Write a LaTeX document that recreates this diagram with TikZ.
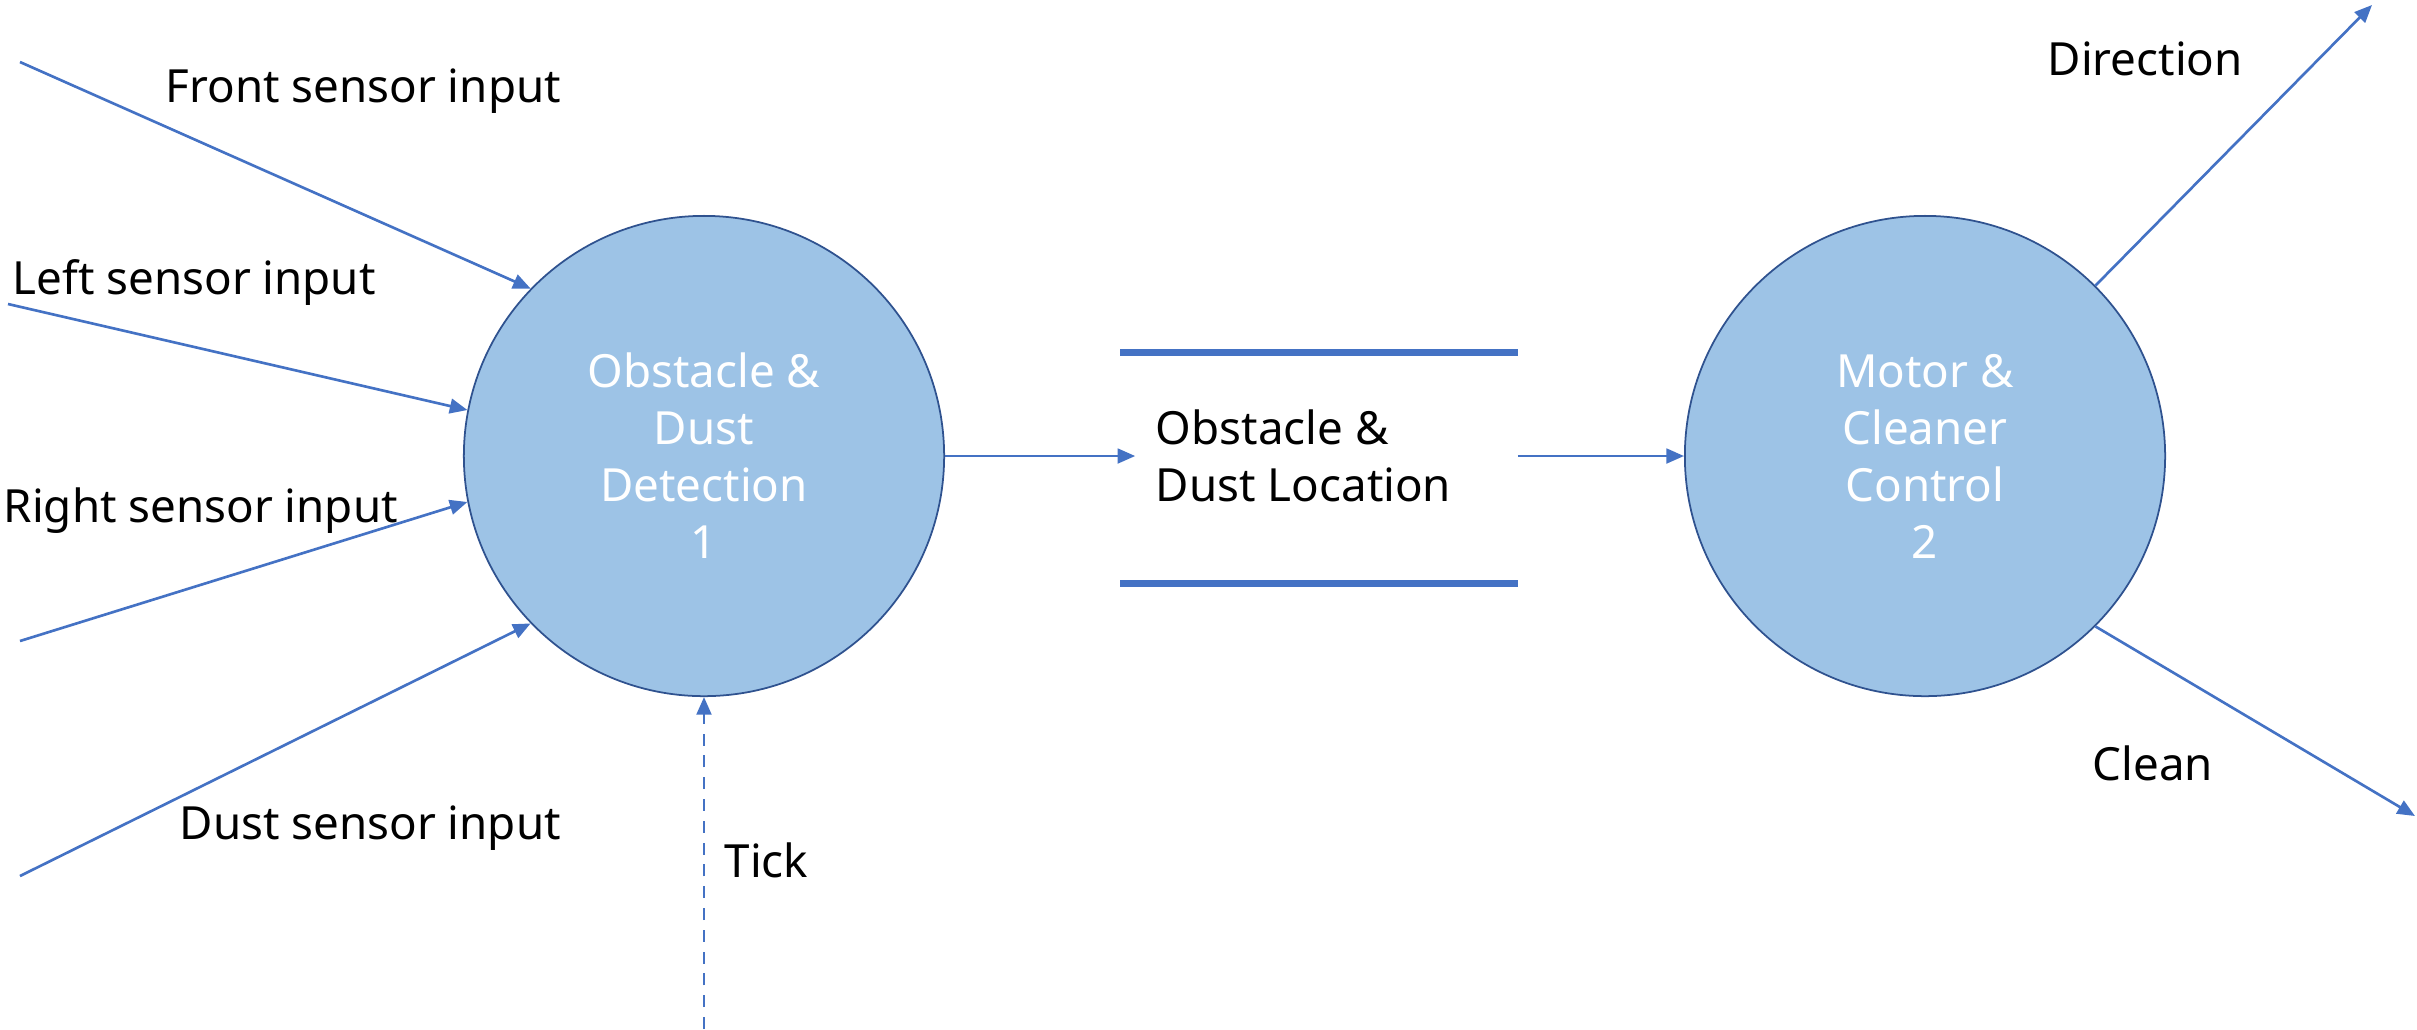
\documentclass[tikz,border=0pt]{standalone}
\usepackage{fontspec}
\setmainfont{Noto Sans}
\usetikzlibrary{arrows.meta,positioning}
\definecolor{flowblue}{HTML}{4472C4}
\definecolor{procfill}{HTML}{9DC3E6}
\definecolor{procline}{HTML}{2F528F}
\tikzset{
  flow/.style={-{Triangle[length=5pt,width=4.2pt]},flowblue,line width=0.75pt},
  ctrl/.style={flow,dash pattern=on 3.4pt off 2.8pt},
  proc/.style={circle,draw=procline,line width=0.5pt,fill=procfill,
    minimum size=4.8cm,inner sep=0pt,align=center,text=white},
  store/.style={minimum width=3.96cm,minimum height=2.3cm,inner sep=0pt},
  storeline/.style={flowblue,line width=2pt},
  lbl/.style={anchor=west,inner sep=0pt,align=left},
  every node/.style={font=\fontsize{13}{16.2}\selectfont}
}

\begin{document}
\begin{tikzpicture}[x=0.01cm,y=-0.01cm]
  \useasboundingbox (0,0) rectangle (2417,1029);

  % Processes
  \node[proc] (det) at (704,456) {Obstacle \&\\Dust\\Detection\\1};
  \node[proc] (ctl) at (1925,456) {Motor \&\\Cleaner\\Control\\2};

  % Data store
  \node[store] (loc) at (1319,468) {};
  \draw[storeline] (loc.north west) -- (loc.north east);
  \draw[storeline] (loc.south west) -- (loc.south east);
  \node[lbl] (loctxt) at ([xshift=0.35cm,yshift=0.12cm]loc.west)
    {Obstacle \&\\Dust Location};

  % Free ends
  \coordinate (infront) at (20,62);
  \coordinate (inleft)  at (8,304);
  \coordinate (inright) at (20,641);
  \coordinate (indust)  at (20,876);
  \coordinate (intick)  at (704,1029);
  \coordinate (outdir)  at (2372,5);
  \coordinate (outcln)  at (2415,816);

  % Sensor inputs
  \foreach \src/\ang in {infront/136,inleft/169,inright/191,indust/224}
    \draw[flow] (\src) -- (det.\ang);
  \draw[ctrl] (intick) -- (det.south);

  % Flows through the store
  \draw[flow,shorten >=-0.15cm] (det.east) -- (det.east -| loc.west);
  \draw[flow] (loc.east |- ctl.west) -- (ctl.west);

  % Outputs
  \draw[flow] (ctl.45) -- (outdir);
  \draw[flow] (ctl.-45) -- (outcln);

  % Labels
  \node[lbl] (lfront) at (165,91)  {Front sensor input};
  \node[lbl] (lleft)  at (12,282)  {Left sensor input};
  \node[lbl] (lright) at (3,511)   {Right sensor input};
  \node[lbl] (ldust)  at (179,828) {Dust sensor input};
  \node[lbl] (ltick)  at (724,860) {Tick};
  \node[lbl] (ldir)   at (2047,59) {Direction};
  \node[lbl] (lcln)   at (2092,763) {Clean};
\end{tikzpicture}
\end{document}
